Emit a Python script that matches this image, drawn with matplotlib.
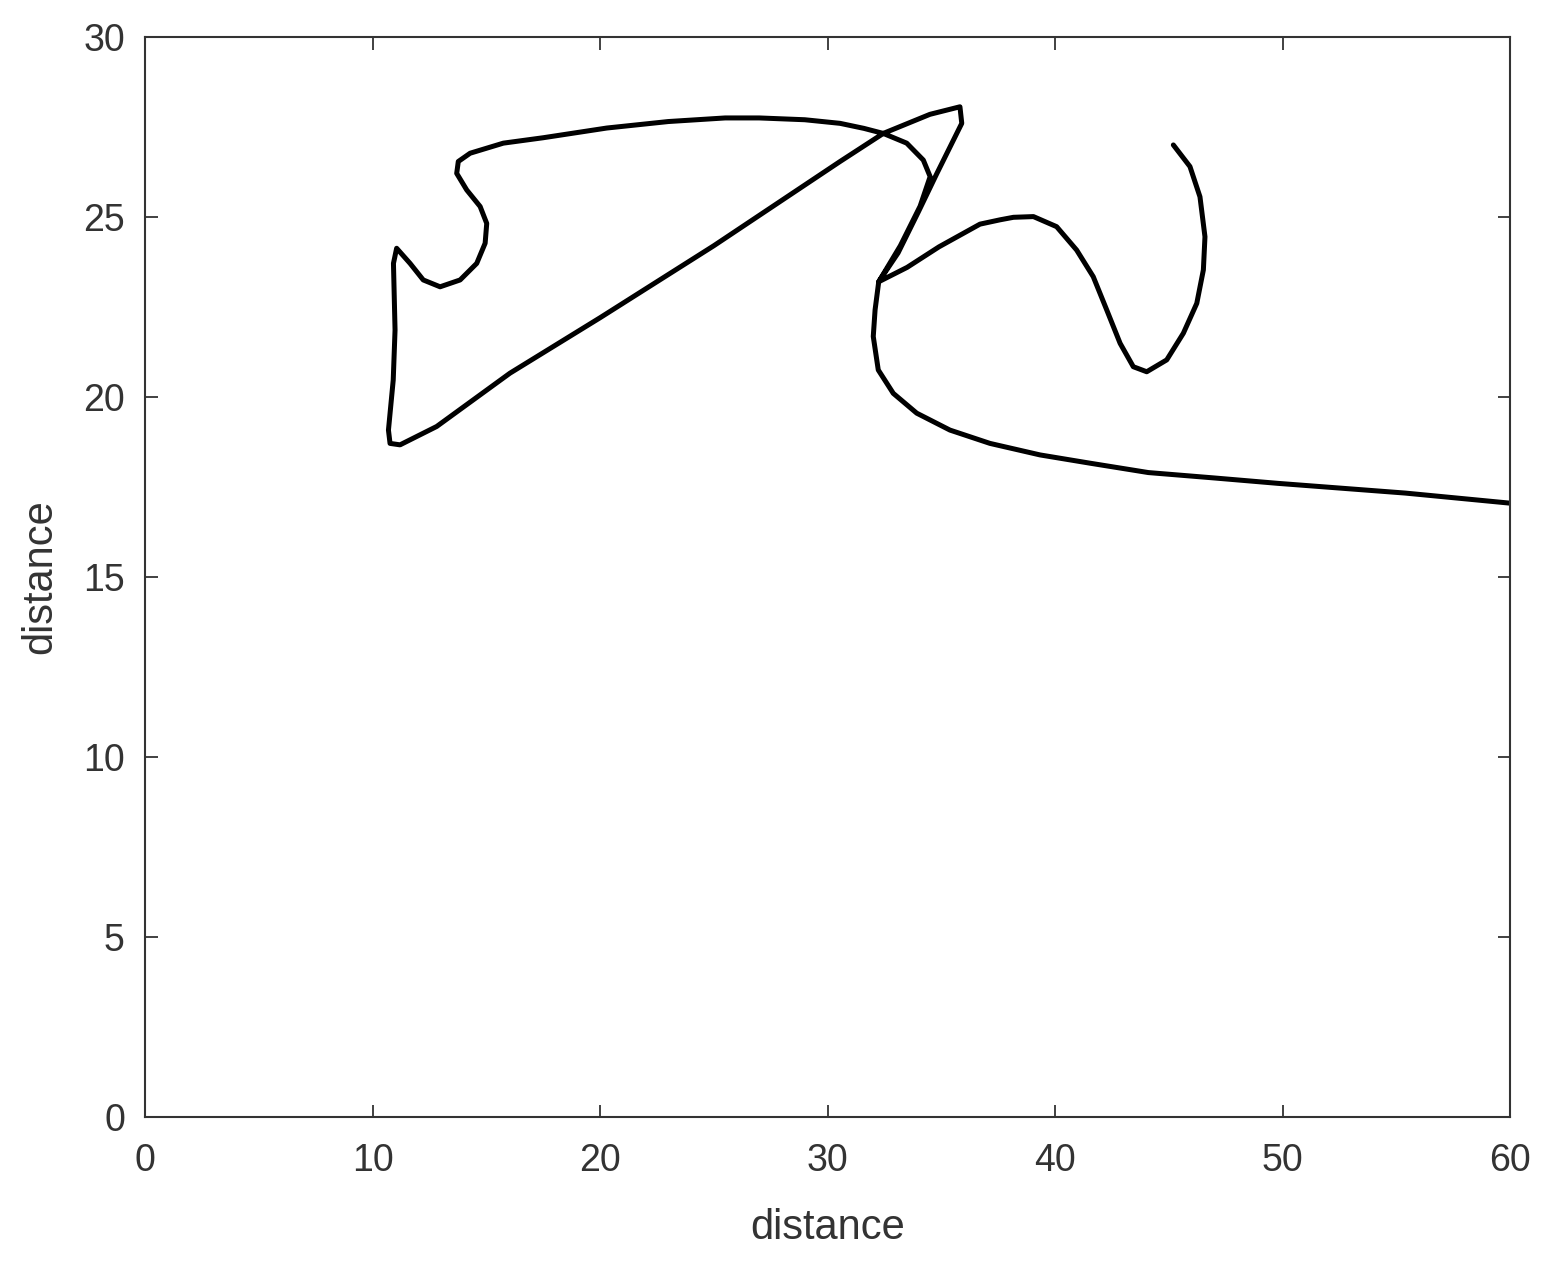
import matplotlib
matplotlib.use("Agg")
import matplotlib.pyplot as plt

plt.rcParams['font.family'] = ['Liberation Sans', 'DejaVu Sans']

# trajectory points, in drawing order
x = [45.2, 45.93, 46.37, 46.59, 46.52, 46.23, 45.64, 44.91, 44.03, 43.44,
     42.86, 42.27, 41.68, 40.95, 40.07, 39.05, 38.17, 37.58, 36.7, 34.9,
     33.5, 32.25, 33.2, 34.07, 34.51, 34.21, 33.48, 32.45, 31.6, 30.55,
     29.0, 27.0, 25.5, 23.0, 20.3, 17.5, 15.75, 14.29, 13.77, 13.7,
     14.14, 14.73, 15.02, 14.95, 14.58, 13.85, 12.97, 12.23, 11.65, 11.06,
     10.92, 10.99, 10.91, 10.7, 10.77, 11.21, 12.82, 16.04, 20.0, 25.0,
     30.55, 32.45, 34.5, 35.82, 35.9, 34.8, 34.0, 33.1, 32.25, 32.09,
     32.01, 32.23, 32.89, 33.92, 35.38, 37.14, 39.34, 41.54, 44.1, 47.0,
     49.8, 55.4, 60.0]
y = [27.0, 26.4, 25.56, 24.45, 23.53, 22.6, 21.77, 21.03, 20.7, 20.84,
     21.49, 22.42, 23.34, 24.08, 24.73, 25.01, 24.99, 24.92, 24.8, 24.17,
     23.6, 23.2, 24.2, 25.3, 26.12, 26.58, 27.05, 27.32, 27.46, 27.6,
     27.7, 27.75, 27.75, 27.65, 27.47, 27.2, 27.05, 26.77, 26.54, 26.21,
     25.75, 25.29, 24.82, 24.27, 23.71, 23.25, 23.06, 23.25, 23.71, 24.13,
     23.71, 21.86, 20.47, 19.08, 18.71, 18.67, 19.18, 20.66, 22.2, 24.2,
     26.54, 27.32, 27.85, 28.06, 27.6, 26.2, 25.15, 24.0, 23.2, 22.42,
     21.68, 20.75, 20.1, 19.55, 19.08, 18.71, 18.39, 18.16, 17.9, 17.75,
     17.6, 17.33, 17.05]

fig = plt.figure(figsize=(15.51, 12.65), dpi=100)
ax = fig.add_axes([0.0935, 0.117, 0.8801, 0.8538])
ax.plot(x, y, color='black', linewidth=3.6, solid_joinstyle='round', solid_capstyle='round')

ax.set_xlim(0, 60)
ax.set_ylim(0, 30)
ax.set_xticks(range(0, 61, 10))
ax.set_yticks(range(0, 31, 5))
ax.tick_params(direction='in', length=9, width=1.3, labelsize=27, colors='#333333',
               top=True, right=True)
ax.tick_params(axis='x', pad=18.5)
ax.tick_params(axis='y', pad=14.5)
for s in ax.spines.values():
    s.set_color('#333333')
    s.set_linewidth(1.5)

ax.set_xlabel('distance', fontsize=30, color='#333333', va='center')
ax.set_ylabel('distance', fontsize=30, color='#333333', va='center')
ax.xaxis.set_label_coords(0.5, -0.1032)
ax.yaxis.set_label_coords(-0.0765, 0.5)

fig.savefig('out.png', dpi=100, facecolor='white')
